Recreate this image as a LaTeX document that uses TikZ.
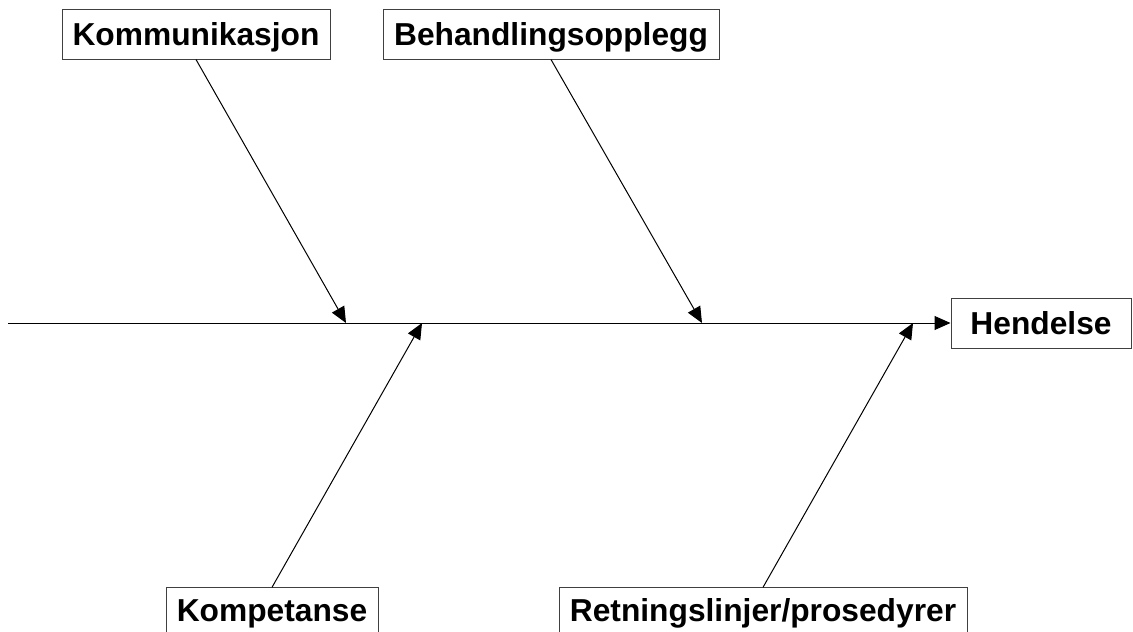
\documentclass[tikz,border=0pt]{standalone}
\usepackage{fontspec}
\setmainfont{Liberation Sans}
\usetikzlibrary{arrows.meta}
\begin{document}
\begin{tikzpicture}[x=0.75pt,y=-0.75pt,
  cause/.style={draw=black!75, line width=0.75pt, fill=white, inner sep=0pt,
    font=\bfseries\fontsize{23.8pt}{28pt}\selectfont, text height=17pt, text depth=0pt, minimum height=37.5pt},
  bone/.style={line width=0.75pt, -{Triangle[length=12pt,width=10.5pt]}}]
\useasboundingbox (0,0) rectangle (1133,632);
\node[cause, minimum width=201pt] (kom) at (196,34) {Kommunikasjon};
\node[cause, minimum width=252pt] (beh) at (551,34) {Behandlingsopplegg};
\node[cause, minimum width=135pt] (hen) at (1041,323) {Hendelse};
\node[cause, minimum width=159pt, minimum height=34pt] (kmp) at (272,610.5) {Kompetanse};
\node[cause, minimum width=306pt, minimum height=34pt] (ret) at (763,610.5) {Retningslinjer/prosedyrer};
\coordinate (start) at (8,323);
\coordinate (t1) at (346,323);
\coordinate (t2) at (702,323);
\coordinate (t3) at (422,323);
\coordinate (t4) at (913,323);
\draw[bone] (start) -- (hen.west);
\draw[bone] (kom.south) -- (t1);
\draw[bone] (beh.south) -- (t2);
\draw[bone] (kmp.north) -- (t3);
\draw[bone] (ret.north) -- (t4);
\end{tikzpicture}
\end{document}
